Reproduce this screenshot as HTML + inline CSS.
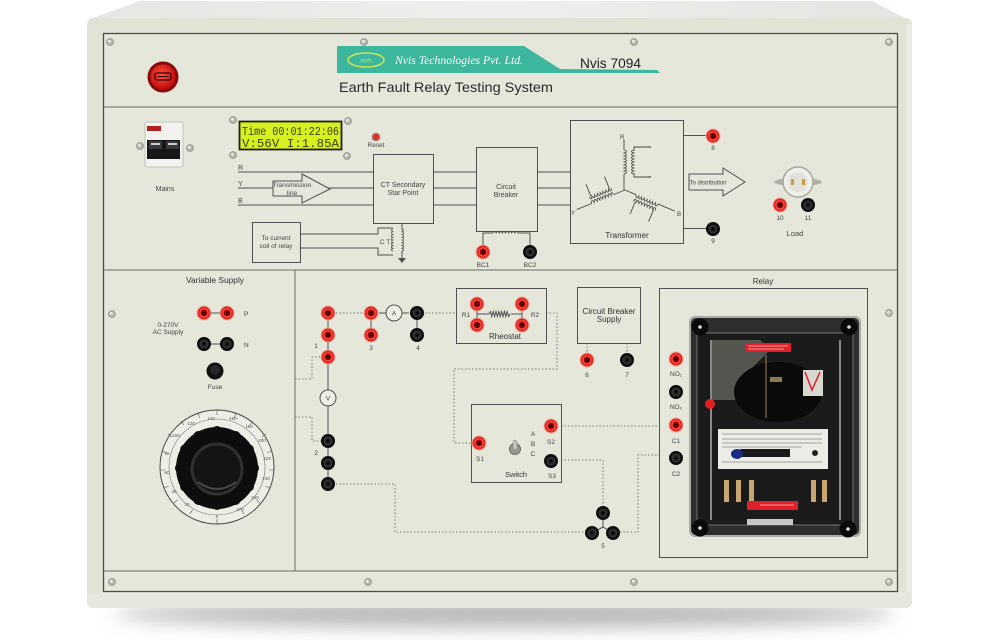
<!DOCTYPE html>
<html><head><meta charset="utf-8"><style>
html,body{margin:0;padding:0;background:#fff;}
svg{display:block;font-family:"Liberation Sans",sans-serif;}
</style></head><body>
<svg width="1000" height="640" viewBox="0 0 1000 640" xmlns="http://www.w3.org/2000/svg">
<defs>
<filter id="bl" x="-20%" y="-200%" width="140%" height="500%"><feGaussianBlur stdDeviation="9"/></filter>
<radialGradient id="lamp" cx="45%" cy="40%" r="60%"><stop offset="0" stop-color="#ff5040"/><stop offset="1" stop-color="#c00808"/></radialGradient>
<linearGradient id="topf" x1="0" y1="0" x2="1" y2="0"><stop offset="0" stop-color="#e6e7e3"/><stop offset=".5" stop-color="#eeefec"/><stop offset="1" stop-color="#e4e5e1"/></linearGradient>
<g id="tr"><circle r="7.6" fill="#f4a8a0" opacity=".7"/><circle r="6.6" fill="#e42a20"/><circle r="4" fill="#a80000" stroke="#ff7060" stroke-width=".8"/><circle r="1.6" fill="#1a0000"/></g>
<g id="tb"><circle r="7" fill="#0d0d0d"/><circle r="4" fill="#262626" stroke="#4a4a4a" stroke-width=".6"/><circle r="1.5" fill="#000"/></g>
<g id="sc"><circle r="3.4" fill="#b9bab2" stroke="#85867f" stroke-width=".8"/><circle cx="-.7" cy="-.8" r="1.3" fill="#f0f0ea"/></g>
<path id="cu" d="M0 0q1.5 -5 3 0q1.5 -5 3 0q1.5 -5 3 0q1.5 -5 3 0q1.5 -5 3 0q1.5 -5 3 0q1.5 -5 3 0q1.5 -5 3 0" fill="none" stroke="#4a4a45" stroke-width=".9"/>
<path id="cd" d="M0 0q1.5 5 3 0q1.5 5 3 0q1.5 5 3 0q1.5 5 3 0q1.5 5 3 0q1.5 5 3 0q1.5 5 3 0q1.5 5 3 0" fill="none" stroke="#4a4a45" stroke-width=".9"/>
</defs>
<rect width="1000" height="640" fill="#fff"/>
<!-- shadow -->
<ellipse cx="505" cy="614" rx="390" ry="14" fill="#b8b8b8" filter="url(#bl)"/>
<!-- cabinet top face -->
<polygon points="87,20 140,1 872,1 912,22" fill="url(#topf)"/>
<!-- cabinet front -->
<rect x="87" y="18" width="825" height="590" rx="7" fill="#e1e3d5"/>
<rect x="906" y="24" width="6" height="578" fill="#e9ebe1"/>
<rect x="87" y="592" width="825" height="16" rx="6" fill="#e6e8dd"/>
<!-- inner panel -->
<rect x="103.5" y="33.5" width="794" height="558" fill="#e5e7da" stroke="#4d4f48" stroke-width="1.3"/>
<g stroke="#6a6c64" stroke-width="1">
<line x1="104" y1="107" x2="897" y2="107"/>
<line x1="104" y1="270" x2="897" y2="270"/>
<line x1="104" y1="571" x2="897" y2="571"/>
<line x1="295" y1="270" x2="295" y2="571"/>
</g>
<!-- screws -->
<use href="#sc" x="110" y="42"/><use href="#sc" x="364" y="42"/><use href="#sc" x="634" y="42"/><use href="#sc" x="889" y="42"/>
<use href="#sc" x="112" y="582"/><use href="#sc" x="368" y="582"/><use href="#sc" x="634" y="582"/><use href="#sc" x="889" y="582"/>
<use href="#sc" x="112" y="314"/><use href="#sc" x="889" y="313"/>

<!-- header -->
<circle cx="163" cy="77" r="15.5" fill="#8a0a0a"/>
<circle cx="163" cy="77" r="12.5" fill="url(#lamp)"/>
<rect x="155" y="73" width="16" height="7" rx="2" fill="none" stroke="#300" stroke-width="1.3"/>
<path d="M157 76.5h12" stroke="#300" stroke-width="1"/>
<polygon points="337,46 524,46 560,69 657,70 660,73 337,73" fill="#3cb79e"/>
<ellipse cx="366" cy="60" rx="18" ry="7" fill="none" stroke="#c9e257" stroke-width="1.6"/>
<text x="366" y="62.5" font-size="7" font-style="italic" fill="#d4ea60" text-anchor="middle" font-family="Liberation Serif,serif">nvis</text>
<text x="395" y="64" font-size="12" font-style="italic" fill="#fff" font-family="Liberation Serif,serif" textLength="128" lengthAdjust="spacingAndGlyphs">Nvis Technologies Pvt. Ltd.</text>
<text x="580" y="68" font-size="14" fill="#222" textLength="61" lengthAdjust="spacingAndGlyphs">Nvis 7094</text>
<text x="339" y="92" font-size="14" fill="#2a2a2a" textLength="214" lengthAdjust="spacingAndGlyphs">Earth Fault Relay Testing System</text>

<!-- mains breaker -->
<use href="#sc" x="140" y="146"/><use href="#sc" x="190" y="148"/>
<rect x="145" y="122" width="38" height="45" rx="2" fill="#f2f2ef" stroke="#b8b8b2" stroke-width=".8"/>
<rect x="147" y="126" width="14" height="5" fill="#b42020"/>
<rect x="147" y="140" width="33" height="19" fill="#161616"/>
<rect x="149" y="141" width="13" height="8" fill="#3a3a3a"/><rect x="166" y="141" width="13" height="8" fill="#3a3a3a"/>
<rect x="151" y="143" width="9" height="2" fill="#ccc"/><rect x="168" y="143" width="9" height="2" fill="#ccc"/>
<text x="165" y="191" font-size="7" fill="#444" text-anchor="middle">Mains</text>

<!-- LCD -->
<use href="#sc" x="233" y="120"/><use href="#sc" x="348" y="121"/><use href="#sc" x="233" y="155"/><use href="#sc" x="347" y="156"/>
<rect x="239.5" y="121.5" width="102" height="28" fill="#d6f020" stroke="#1e1e1a" stroke-width="1.8"/>
<text x="242" y="135" font-size="11.5" font-family="Liberation Mono,monospace" fill="#3b4300" textLength="97" lengthAdjust="spacingAndGlyphs">Time 00:01:22:06</text>
<text x="242" y="147" font-size="11.5" font-family="Liberation Mono,monospace" fill="#3b4300" textLength="97" lengthAdjust="spacingAndGlyphs">V:56V I:1.85A</text>
<circle cx="376" cy="137" r="4.5" fill="#999"/><circle cx="376" cy="137" r="3.3" fill="#e83020"/>
<text x="376" y="147" font-size="6.5" fill="#444" text-anchor="middle">Reset</text>

<!-- diagram lines -->
<g stroke="#505050" stroke-width="1" fill="none">
<path d="M238 172H373M238 188H373M238 205H373"/>
<path d="M433 172H476M433 188H476M433 205H476"/>
<path d="M537 172H570M537 188H570M537 205H570"/>
</g>
<g font-size="7" fill="#444">
<text x="238" y="170">R</text><text x="238" y="186">Y</text><text x="238" y="203">B</text>
</g>
<polygon points="273,181 302,181 302,174 330,189 302,203 302,196 273,196" fill="#e5e7da" stroke="#505050" stroke-width="1"/>
<text x="292" y="187" font-size="6.5" fill="#444" text-anchor="middle">Transmission</text>
<text x="292" y="195" font-size="6.5" fill="#444" text-anchor="middle">line</text>
<rect x="373.5" y="154.5" width="60" height="69" fill="none" stroke="#505050"/>
<text x="403" y="187" font-size="7" fill="#444" text-anchor="middle">CT Secondary</text>
<text x="403" y="195" font-size="7" fill="#444" text-anchor="middle">Star Point</text>
<rect x="476.5" y="147.5" width="61" height="84" fill="none" stroke="#505050"/>
<text x="506" y="189" font-size="7" fill="#444" text-anchor="middle">Circuit</text>
<text x="506" y="197" font-size="7" fill="#444" text-anchor="middle">Breaker</text>
<!-- CB coil -->
<path d="M483 246V233H493M518 233H530V246" fill="none" stroke="#505050"/>
<use href="#cu" transform="translate(493,233) scale(1.04,0.6)"/>
<use href="#tr" x="483" y="252"/><use href="#tb" x="530" y="252"/>
<text x="483" y="267" font-size="6.5" fill="#444" text-anchor="middle">BC1</text>
<text x="530" y="267" font-size="6.5" fill="#444" text-anchor="middle">BC2</text>
<!-- to current coil -->
<rect x="252.5" y="222.5" width="48" height="40" fill="none" stroke="#505050"/>
<text x="276" y="240" font-size="6.5" fill="#444" text-anchor="middle">To current</text>
<text x="276" y="248" font-size="6.5" fill="#444" text-anchor="middle">coil of relay</text>
<g stroke="#505050" fill="none" stroke-width="1">
<path d="M300 234H378V228H393M300 248H378V255H393"/>
<path d="M402 223V230M402 251V258"/>
</g>
<use href="#cd" transform="translate(393,229) rotate(90) scale(0.92,0.7)"/>
<use href="#cu" transform="translate(402,229) rotate(90) scale(0.92,0.7)"/>
<path d="M398 258h8l-4 5z" fill="#505050"/>
<text x="385" y="244" font-size="6.5" fill="#444" text-anchor="middle">C T</text>

<!-- transformer -->
<rect x="570.5" y="120.5" width="113" height="123" fill="none" stroke="#505050"/>
<g stroke="#4a4a45" stroke-width=".9" fill="none">
<path d="M624 142V150M624 174V190"/>
<path d="M634 151V147H650M634 173V177H650"/>
</g>
<use href="#cu" transform="translate(624,150) rotate(90)"/>
<use href="#cd" transform="translate(634,150) rotate(90)"/>
<circle cx="624" cy="141" r=".9" fill="#444"/><circle cx="650" cy="147" r=".9" fill="#444"/><circle cx="650" cy="177" r=".9" fill="#444"/>
<g transform="translate(625,190) rotate(158)">
<path d="M0 0H12M36 0H52M14 7V20M34 7V20" stroke="#4a4a45" stroke-width=".9" fill="none"/>
<use href="#cd" x="12" y="0"/><use href="#cu" x="12" y="7"/>
</g>
<g transform="translate(625,190) rotate(23)">
<path d="M0 0H12M36 0H54M14 7V20M34 7V20" stroke="#4a4a45" stroke-width=".9" fill="none"/>
<use href="#cd" x="12" y="0"/><use href="#cu" x="12" y="7"/>
</g>
<g font-size="6" fill="#444"><text x="620" y="139">R</text><text x="571" y="215">Y</text><text x="677" y="216">B</text></g>
<text x="627" y="238" font-size="8" fill="#333" text-anchor="middle">Transformer</text>
<path d="M683 135.5H707M683 228.5H707" stroke="#505050"/>
<use href="#tr" x="713" y="136"/><use href="#tb" x="713" y="229"/>
<text x="713" y="150" font-size="6.5" fill="#444" text-anchor="middle">8</text>
<text x="713" y="243" font-size="6.5" fill="#444" text-anchor="middle">9</text>
<polygon points="689,174 723,174 723,168 745,182 723,196 723,190 689,190" fill="#e5e7da" stroke="#505050"/>
<text x="708" y="184.5" font-size="6" fill="#444" text-anchor="middle">To distribution</text>
<!-- load -->
<ellipse cx="798" cy="182" rx="24" ry="4" fill="#b0b0a8"/>
<circle cx="798" cy="182" r="15" fill="#f0f0ea" stroke="#a8a8a0" stroke-width="1.5"/>
<circle cx="798" cy="182" r="10" fill="#e2e2da"/>
<rect x="791" y="179" width="3" height="6" fill="#c9a040"/><rect x="802" y="179" width="3" height="6" fill="#c9a040"/>
<use href="#tr" x="780" y="205"/><use href="#tb" x="808" y="205"/>
<text x="780" y="220" font-size="6.5" fill="#444" text-anchor="middle">10</text>
<text x="808" y="220" font-size="6.5" fill="#444" text-anchor="middle">11</text>
<text x="795" y="236" font-size="7.5" fill="#444" text-anchor="middle">Load</text>

<!-- variable supply -->
<text x="215" y="283" font-size="8" fill="#333" text-anchor="middle" textLength="58" lengthAdjust="spacingAndGlyphs">Variable Supply</text>
<path d="M204 313H227M204 344H227" stroke="#505050"/>
<use href="#tr" x="204" y="313"/><use href="#tr" x="227" y="313"/>
<use href="#tb" x="204" y="344"/><use href="#tb" x="227" y="344"/>
<text x="244" y="316" font-size="6.5" fill="#444">P</text>
<text x="244" y="347" font-size="6.5" fill="#444">N</text>
<text x="168" y="327" font-size="6.5" fill="#444" text-anchor="middle">0-270V</text>
<text x="168" y="334" font-size="6.5" fill="#444" text-anchor="middle">AC Supply</text>
<circle cx="215" cy="371" r="8.5" fill="#111"/><circle cx="215" cy="370" r="5" fill="#262626"/>
<text x="215" y="389" font-size="6.5" fill="#444" text-anchor="middle">Fuse</text>
<!-- dial -->
<circle cx="217" cy="467" r="57" fill="#edeee6" stroke="#4a4a45" stroke-width="1"/>
<circle cx="217" cy="467" r="48" fill="none" stroke="#777" stroke-width=".6"/>
<g stroke="#555" stroke-width=".6">
<path d="M217 410v5M236 413l-1.6 4.7M253 421l-3 4M266 434l-4 3M272 451l-4.7 1.6M274 470h-5M270 488l-4.6-2M260 503l-3.8-3.3M244 514l-2.5-4.3M198 413l1.6 4.7M181 421l3 4M168 434l4 3M162 451l4.7 1.6M160 470h5M164 488l4.6-2M174 503l3.8-3.3M190 514l2.5-4.3M217 524v-5"/>
</g>
<g font-size="4.5" fill="#555" text-anchor="middle">
<text x="211" y="420">140</text><text x="191" y="425">120</text><text x="176" y="437">100</text><text x="167" y="455">80</text><text x="167" y="474">60</text><text x="174" y="493">40</text><text x="187" y="506">20</text><text x="217" y="518">0</text>
<text x="233" y="420">160</text><text x="249" y="428">180</text><text x="262" y="442">200</text><text x="267" y="460">220</text><text x="266" y="480">240</text><text x="255" y="499">260</text><text x="240" y="511">270</text>
</g>
<g fill="#0d0d0d">
<circle cx="217" cy="468" r="41"/>
<circle cx="254" cy="468" r="5"/><circle cx="249" cy="486.5" r="5"/><circle cx="235.5" cy="500" r="5"/><circle cx="217" cy="505" r="5"/><circle cx="198.5" cy="500" r="5"/><circle cx="185" cy="486.5" r="5"/>
<circle cx="180" cy="468" r="5"/><circle cx="185" cy="449.5" r="5"/><circle cx="198.5" cy="436" r="5"/><circle cx="217" cy="431" r="5"/><circle cx="235.5" cy="436" r="5"/><circle cx="249" cy="449.5" r="5"/>
</g>
<circle cx="217" cy="469" r="25" fill="#141414" stroke="#303030" stroke-width="3"/>
<path d="M198 482 q19 14 38 0" stroke="#4a4a4a" stroke-width="2" fill="none"/>

<!-- middle section -->
<g stroke="#505050" stroke-width="1" fill="none">
<path d="M328 313V390M328 406V484"/>
<path d="M371 313V335M379 313H386M402 313H409M417 313V335"/>
<path d="M477 304V325M522 304V325M477 314H489M511 314H522"/>
<path d="M489 314l1.4-2.5 1.4 5 1.4-5 1.4 5 1.4-5 1.4 5 1.4-5 1.4 5 1.4-5 1.4 5 1.4-5 1.4 5 1.4-5 1.4 5 1.4-2.5"/>
<path d="M603 513V527M592 533L603 527L613 533"/>
</g>
<g stroke="#777" stroke-width="1" fill="none" stroke-dasharray="1.5 2">
<path d="M336 313H363M425 313H456"/>
<path d="M546 313H557V369H454V443H472"/>
<path d="M295 379H312V357H321M295 417H312V441H321"/>
<path d="M336 484H395V532H585"/>
<path d="M561 426H660M561 460H603V506M660 455H638V532H620"/>
<path d="M587 343V353M627 343V353"/>
</g>
<use href="#tr" x="328" y="313"/><use href="#tr" x="328" y="335"/><use href="#tr" x="328" y="357"/>
<use href="#tr" x="371" y="313"/><use href="#tr" x="371" y="335"/>
<use href="#tb" x="417" y="313"/><use href="#tb" x="417" y="335"/>
<circle cx="394" cy="313" r="8" fill="#eef0e6" stroke="#505050"/>
<text x="394" y="315.5" font-size="6.5" fill="#444" text-anchor="middle">A</text>
<circle cx="328" cy="398" r="8" fill="#eef0e6" stroke="#505050"/>
<text x="328" y="400.5" font-size="6.5" fill="#444" text-anchor="middle">V</text>
<use href="#tb" x="328" y="441"/><use href="#tb" x="328" y="463"/><use href="#tb" x="328" y="484"/>
<g font-size="6.5" fill="#444" text-anchor="middle">
<text x="316" y="348">1</text><text x="371" y="350">3</text><text x="418" y="350">4</text><text x="316" y="455">2</text>
</g>
<!-- rheostat -->
<rect x="456.5" y="288.5" width="90" height="55" fill="none" stroke="#505050"/>
<use href="#tr" x="477" y="304"/><use href="#tr" x="477" y="325"/><use href="#tr" x="522" y="304"/><use href="#tr" x="522" y="325"/>
<text x="466" y="317" font-size="6.5" fill="#444" text-anchor="middle">R1</text>
<text x="535" y="317" font-size="6.5" fill="#444" text-anchor="middle">R2</text>
<text x="505" y="339" font-size="8" fill="#333" text-anchor="middle">Rheostat</text>
<!-- switch -->
<rect x="471.5" y="404.5" width="90" height="78" fill="none" stroke="#505050"/>
<use href="#tr" x="479" y="443"/><use href="#tr" x="551" y="426"/><use href="#tb" x="551" y="461"/>
<circle cx="515" cy="449" r="5.5" fill="#9a9a94" stroke="#6a6a66"/>
<rect x="513" y="440" width="4" height="10" rx="2" fill="#c8c8c2" stroke="#777" stroke-width=".5"/>
<g font-size="6.5" fill="#444" text-anchor="middle">
<text x="533" y="436">A</text><text x="533" y="446">B</text><text x="533" y="456">C</text>
<text x="480" y="461">S1</text><text x="551" y="444">S2</text><text x="552" y="478">S3</text>
</g>
<text x="516" y="477" font-size="7.5" fill="#333" text-anchor="middle">Switch</text>
<!-- terminal 5 -->
<use href="#tb" x="603" y="513"/><use href="#tb" x="592" y="533"/><use href="#tb" x="613" y="533"/>
<text x="603" y="548" font-size="6" fill="#444" text-anchor="middle">5</text>
<!-- CB supply -->
<rect x="577.5" y="287.5" width="63" height="56" fill="none" stroke="#505050"/>
<text x="609" y="314" font-size="8" fill="#333" text-anchor="middle">Circuit Breaker</text>
<text x="609" y="322" font-size="8" fill="#333" text-anchor="middle">Supply</text>
<use href="#tr" x="587" y="360"/><use href="#tb" x="627" y="360"/>
<text x="587" y="377" font-size="6.5" fill="#444" text-anchor="middle">6</text>
<text x="627" y="377" font-size="6.5" fill="#444" text-anchor="middle">7</text>

<!-- relay section -->
<text x="763" y="284" font-size="8" fill="#333" text-anchor="middle">Relay</text>
<rect x="659.5" y="288.5" width="208" height="269" fill="none" stroke="#505050"/>
<use href="#tr" x="676" y="359"/><use href="#tb" x="676" y="392"/><use href="#tr" x="676" y="425"/><use href="#tb" x="676" y="458"/>
<g font-size="6.5" fill="#444" text-anchor="middle">
<text x="676" y="376">NO₁</text><text x="676" y="409">NO₂</text><text x="676" y="443">C1</text><text x="676" y="476">C2</text>
</g>
<!-- relay unit -->
<rect x="689" y="316" width="172" height="221" rx="6" fill="#a9aaa3"/>
<rect x="691" y="318" width="168" height="217" rx="5" fill="#2e2e2e"/>
<rect x="697" y="333" width="156" height="192" fill="#1b1b1b" stroke="#707070" stroke-width="1"/>
<polygon points="712,340 760,340 770,350 745,375 735,400 712,400" fill="#555550"/>
<ellipse cx="778" cy="392" rx="44" ry="30" fill="#0a0a0a"/>
<rect x="745" y="343" width="46" height="9" fill="#e02028"/>
<path d="M748 346h40M748 349h36" stroke="#f8c0c0" stroke-width=".7"/>
<path d="M766 355V418" stroke="#a08850" stroke-width="1"/>
<rect x="770" y="377" width="12" height="5" fill="#8a7a50"/>
<path d="M711 340V520M840 340V520" stroke="#8a8a86" stroke-width="2"/>
<circle cx="710" cy="404" r="5" fill="#e02020"/>
<rect x="803" y="370" width="20" height="26" fill="#d8d8d2"/>
<path d="M805 372l7 18 8-18" stroke="#e02020" stroke-width="1.5" fill="none"/>
<rect x="718" y="429" width="110" height="40" fill="#ecece6"/>
<g stroke="#555" stroke-width=".6"><path d="M722 434h100M722 439h100M722 443h100M722 447h80"/></g>
<rect x="740" y="449" width="50" height="8" fill="#1a1a1a"/>
<ellipse cx="737" cy="454" rx="6" ry="5" fill="#1a2a80"/>
<circle cx="815" cy="453" r="3" fill="#222"/>
<path d="M722 462h100" stroke="#555" stroke-width=".6"/>
<g fill="#c8a870"><rect x="724" y="480" width="5" height="22"/><rect x="736" y="480" width="5" height="22"/><rect x="749" y="480" width="5" height="22"/><rect x="811" y="480" width="5" height="22"/><rect x="822" y="480" width="5" height="22"/></g>
<rect x="747" y="501" width="51" height="9" fill="#e02028"/>
<path d="M760 505h34" stroke="#f8c0c0" stroke-width=".7"/>
<rect x="747" y="519" width="46" height="6" fill="#c8c8c4"/>
<g><circle cx="700" cy="327" r="8.5" fill="#0a0a0a"/><circle cx="700" cy="327" r="1.8" fill="#ddd"/>
<circle cx="849" cy="327" r="8.5" fill="#0a0a0a"/><circle cx="849" cy="327" r="1.8" fill="#ddd"/>
<circle cx="700" cy="528" r="8.5" fill="#0a0a0a"/><circle cx="700" cy="528" r="1.8" fill="#ddd"/>
<circle cx="848" cy="529" r="8.5" fill="#0a0a0a"/><circle cx="848" cy="529" r="1.8" fill="#ddd"/></g>
</svg>
</body></html>
